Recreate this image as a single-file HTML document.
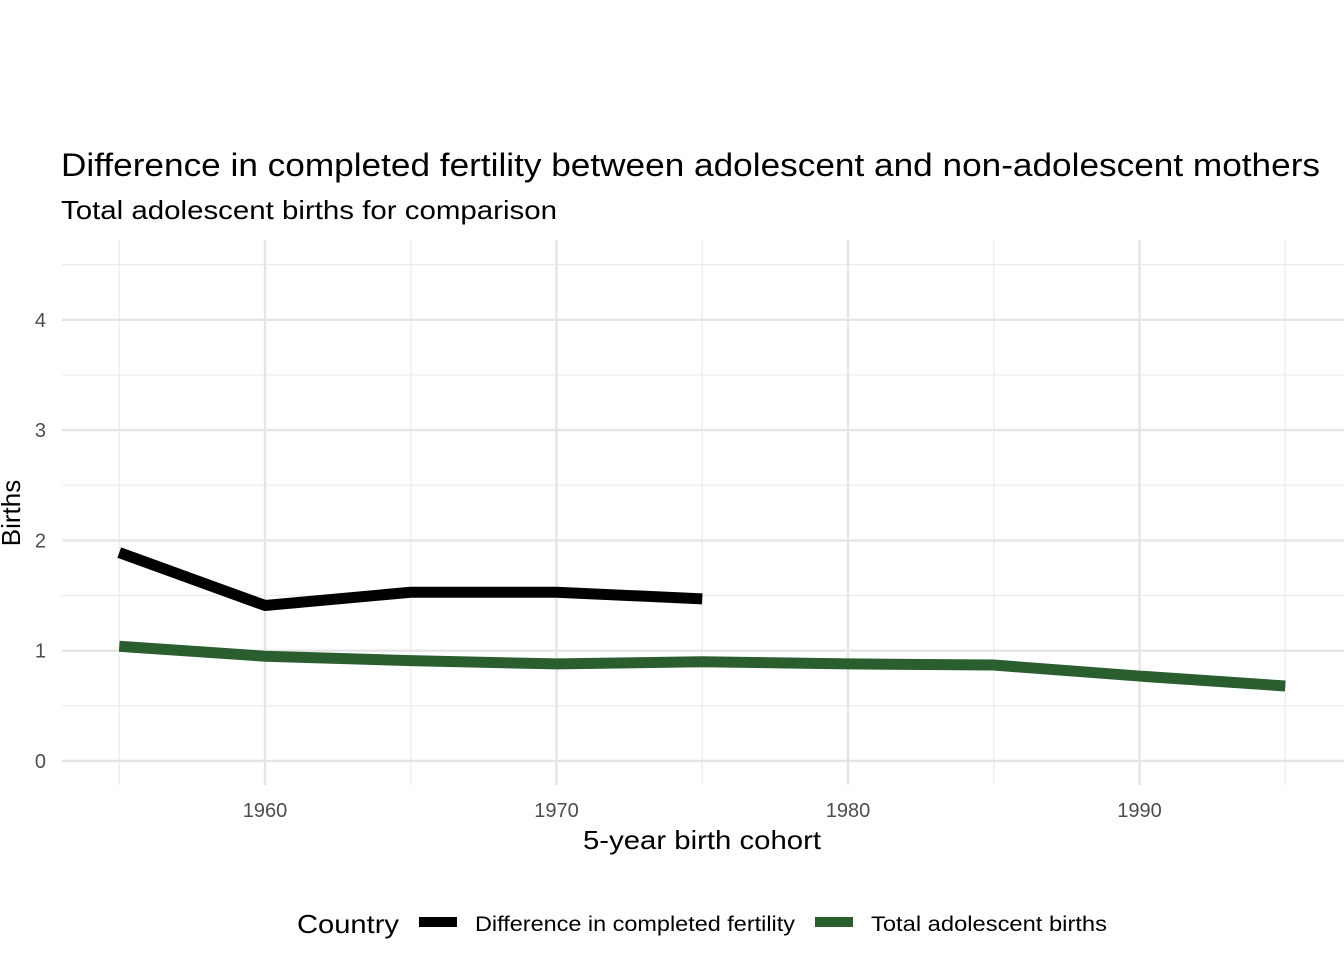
<!DOCTYPE html>
<html><head><meta charset="utf-8"><style>
body{margin:0;background:#fff;}
svg{display:block;font-family:"Liberation Sans",Arial,sans-serif;}
</style></head><body>
<svg id="chart" width="1344" height="960">
<text x="61" y="176" font-size="32" fill="#000" textLength="1259" lengthAdjust="spacingAndGlyphs">Difference in completed fertility between adolescent and non-adolescent mothers</text>
<text x="61" y="219" font-size="26" fill="#000" textLength="496" lengthAdjust="spacingAndGlyphs">Total adolescent births for comparison</text>
<g id="grid"></g>
<g id="series"></g>
<g id="axes"></g>
<text x="583" y="849" font-size="26" fill="#000" textLength="238" lengthAdjust="spacingAndGlyphs">5-year birth cohort</text>
<text transform="translate(20,513) rotate(-90)" font-size="26" text-anchor="middle" fill="#000">Births</text>
<g>
<text x="297" y="933" font-size="26" fill="#000" textLength="102" lengthAdjust="spacingAndGlyphs">Country</text>
<rect x="419" y="917" width="38" height="10" fill="#000"></rect>
<text x="475" y="931" font-size="21" fill="#000" textLength="320" lengthAdjust="spacingAndGlyphs">Difference in completed fertility</text>
<rect x="815" y="917" width="38" height="10" fill="#2a5e2f"></rect>
<text x="871" y="931" font-size="21" fill="#000" textLength="236" lengthAdjust="spacingAndGlyphs">Total adolescent births</text>
</g>
</svg>
<script>
const diffYears=[1955,1960,1965,1970,1975];
const diffValues=[1.89,1.41,1.53,1.53,1.47];
const totalYears=[1955,1960,1965,1970,1975,1980,1985,1990,1995];
const totalValues=[1.04,0.95,0.91,0.88,0.90,0.88,0.87,0.77,0.68];
const xTicks=[1960,1970,1980,1990];
const xMinor=[1955,1965,1975,1985,1995];
const yTicks=[0,1,2,3,4];
const yMinor=[0.5,1.5,2.5,3.5,4.5];
const NS="http://www.w3.org/2000/svg";
const L=62,R=1344,T=240,B=785;
const x=v=>265+(v-1960)*29.15;
const y=v=>761-v*110.3;
function mk(tag,at,parent){const e=document.createElementNS(NS,tag);for(const k in at)e.setAttribute(k,at[k]);document.getElementById(parent).appendChild(e);return e;}
xMinor.forEach(v=>{const e=mk('line',{x1:x(v),x2:x(v),y1:T,y2:B,stroke:'#ebebeb','stroke-width':1.2},'grid');

});
yMinor.forEach(v=>{const e=mk('line',{x1:L,x2:R,y1:y(v),y2:y(v),stroke:'#ebebeb','stroke-width':1.2},'grid');

});
xTicks.forEach(v=>{const e=mk('line',{x1:x(v),x2:x(v),y1:T,y2:B,stroke:'#e5e5e5','stroke-width':2.4},'grid');


const t=mk('text',{x:x(v),y:817,'font-size':20,'text-anchor':'middle',fill:'#4d4d4d'},'axes');t.textContent=v;

});
yTicks.forEach(v=>{const e=mk('line',{x1:L,x2:R,y1:y(v),y2:y(v),stroke:'#e5e5e5','stroke-width':2.4},'grid');


const t=mk('text',{x:46,y:y(v)+7,'font-size':20,'text-anchor':'end',fill:'#4d4d4d'},'axes');t.textContent=v;

});
function line(xs,vs,col,name){const p=mk('polyline',{points:xs.map((v,i)=>x(v)+','+y(vs[i])).join(' '),fill:'none',stroke:col,'stroke-width':11,'stroke-linejoin':'round'},'series');

}
line(totalYears,totalValues,'#2a5e2f','total-adolescent-births-line');
line(diffYears,diffValues,'#000','difference-fertility-line');
</script>
</body></html>
